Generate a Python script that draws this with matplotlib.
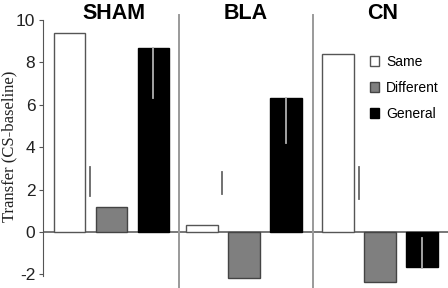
import matplotlib
matplotlib.use("Agg")
import matplotlib.pyplot as plt
from matplotlib.patches import Patch

groups = ["SHAM", "BLA", "CN"]
series = ["Same", "Different", "General"]
same = [9.4, 0.35, 8.4]
different = [1.2, -2.15, -2.35]
general = [8.7, 6.3, -1.65]
# error segments (low, high)
same_err = [(1.7, 3.07), (1.8, 2.85), (1.57, 3.05)]
general_err = [(6.3, 8.7), (4.2, 6.3), (-1.7, -0.3)]
yticks = [-2, 0, 2, 4, 6, 8, 10]

group_start = [0.0, 3.15, 6.4]
separators = [2.61, 5.79]
width = 0.76
colors = ["white", "#7f7f7f", "black"]
edges = ["#555555", "#444444", "black"]

fig = plt.figure(figsize=(4.48, 2.88), dpi=100)
ax = fig.add_axes([43 / 448, 2 / 288, 405 / 448, 275.5 / 288])
ax.set_xlim(-0.63, 9.01)
ax.set_ylim(-2.55, 10.45)

vals = [same, different, general]
for si in range(3):
    xs = [g + si for g in group_start]
    ax.bar(xs, vals[si], width=width, color=colors[si], edgecolor=edges[si],
           linewidth=1.0, zorder=2, label=series[si])

for gi, g in enumerate(group_start):
    lo, hi = same_err[gi]
    ax.plot([g + 0.49, g + 0.49], [lo, hi], color="#666666", lw=1.3, zorder=3)
    lo, hi = general_err[gi]
    ax.plot([g + 2, g + 2], [lo, hi], color="#b0b0b0", lw=1.3, zorder=3)

ax.axhline(0, color="#777777", lw=1.4, zorder=1)
for s in separators:
    ax.plot([s, s], [-2.7, 10.24], color="#9a9a9a", lw=1.4, zorder=1, clip_on=False)

for gi, g in enumerate(group_start):
    ax.text(g + 1.05, 10.05, groups[gi], ha="center", va="baseline",
            fontsize=15.5, fontweight="bold", family="Liberation Sans")

for sp in ["top", "right", "bottom"]:
    ax.spines[sp].set_visible(False)
ax.spines["left"].set_color("#555555")
ax.spines["left"].set_bounds(-2.1, 10)
ax.set_xticks([])
ax.set_yticks(yticks)
ax.set_yticklabels([str(t) for t in yticks], family="Liberation Sans", fontsize=12.5, color="#222222")
ax.tick_params(axis="y", direction="out", length=3, color="#555555", pad=2.5)

fig.text(9.5 / 448, 1 - 146.5 / 288, "Transfer (CS-baseline)", rotation=90,
         ha="center", va="center", family="Liberation Serif", fontsize=12, color="#222222")

handles = [Patch(facecolor=colors[i], edgecolor=edges[i], label=series[i]) for i in range(3)]
leg = ax.legend(handles=handles, loc="upper left", bbox_to_anchor=(370 / 448, 1 - 55 / 288),
                bbox_transform=fig.transFigure, frameon=False, borderpad=0, borderaxespad=0,
                handlelength=0.65, handleheight=0.72, handletextpad=0.5, labelspacing=0.85,
                prop={"family": "Liberation Sans", "size": 10})

fig.savefig("out.png", dpi=100)
